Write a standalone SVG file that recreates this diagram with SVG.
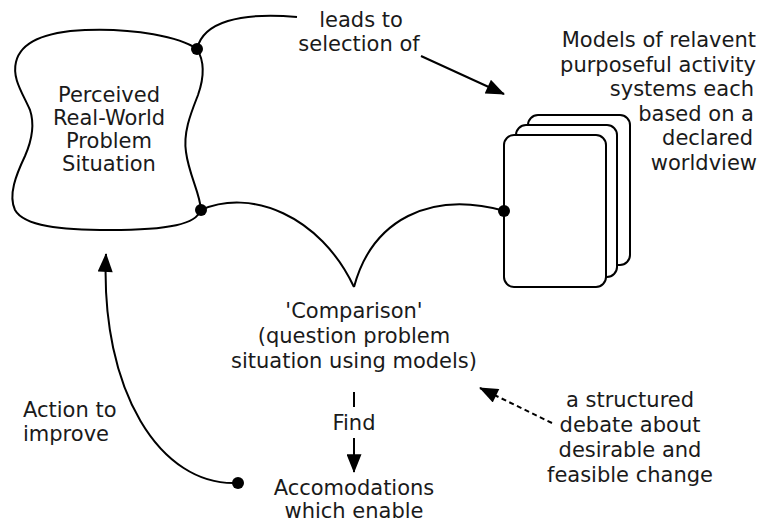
<svg xmlns="http://www.w3.org/2000/svg" width="760" height="523" viewBox="0 0 760 523">
<defs>
<style>
text{font-family:"DejaVu Sans","Liberation Sans",sans-serif;font-size:21px;fill:#1a1a1a}
.c{text-anchor:middle}
.e{text-anchor:end}
.ln{fill:none;stroke:#000;stroke-width:2}
.dash{stroke-dasharray:5 3.5}
.card{fill:#fff;stroke:#000;stroke-width:2}
.dot{fill:#000}
</style>
<marker id="ah" viewBox="0 0 20 16" refX="19" refY="8" markerWidth="21" markerHeight="15" orient="auto" markerUnits="userSpaceOnUse">
<path d="M0,0 L20,8 L0,16 Z" fill="#000"/>
</marker>
</defs>
<rect width="760" height="523" fill="#fff"/>

<g id="problem-situation">
<path class="ln" d="M197,49 C205,62 204,78 198,95 C191,113 183,132 186,152 C189,175 200,193 201,210 C196,224 170,230 110,230 C60,230 24,226 15,210 C8,195 16,175 25,156 C32,140 35,125 30,110 C22,92 12,78 16,62 C20,45 40,32 85,30 C135,28 180,37 197,49 Z"/>
<text class="c" x="109" y="102">Perceived</text>
<text class="c" x="109" y="125">Real-World</text>
<text class="c" x="109" y="148">Problem</text>
<text class="c" x="109" y="171">Situation</text>
</g>

<g id="models">
<rect class="card" x="528" y="115" width="102" height="150" rx="10"/>
<rect class="card" x="516" y="125" width="101" height="152" rx="10"/>
<rect class="card" x="504" y="135" width="102" height="152" rx="10"/>
<text class="e" x="756" y="47">Models of relavent</text>
<text class="e" x="756" y="71.5">purposeful activity</text>
<text class="e" x="754" y="96">systems each</text>
<text class="e" x="754" y="120.5">based on a</text>
<text class="e" x="753" y="145">declared</text>
<text class="e" x="757" y="169.5">worldview</text>
</g>

<g id="comparison">
<text class="c" x="354" y="318">'Comparison'</text>
<text class="c" x="354" y="343">(question problem</text>
<text class="c" x="354" y="368">situation using models)</text>
</g>

<g id="accommodations">
<text class="c" x="354" y="495">Accomodations</text>
<text class="c" x="354" y="518">which enable</text>
</g>

<g id="connectors">
<path class="ln" d="M197,49 C203,22 240,12 297,17"/>
<text class="c" x="361" y="27">leads to</text>
<text class="c" x="359" y="51">selection of</text>
<path class="ln" d="M421,56 L504,94" marker-end="url(#ah)"/>

<path class="ln" d="M201,210 C250,188 320,215 354,287"/>
<path class="ln" d="M354,287 C372,220 430,190 505,211"/>

<path class="ln" d="M354,392 L354,407"/>
<text class="c" x="354" y="430">Find</text>
<path class="ln" d="M354,438 L354,472" marker-end="url(#ah)"/>

<path class="ln" d="M238,483 C160,487 100,390 106,254" marker-end="url(#ah)"/>
<text x="23" y="417">Action to</text>
<text x="23" y="441">improve</text>

<path class="ln dash" d="M552,423 L480,388" marker-end="url(#ah)"/>
<text class="c" x="630" y="406.5">a structured</text>
<text class="c" x="630" y="431.5">debate about</text>
<text class="c" x="630" y="456.5">desirable and</text>
<text class="c" x="630" y="481.5">feasible change</text>

<circle class="dot" cx="197" cy="49" r="6"/>
<circle class="dot" cx="201" cy="210" r="6"/>
<circle class="dot" cx="504" cy="211" r="6"/>
<circle class="dot" cx="238" cy="483" r="6"/>
</g>
</svg>
